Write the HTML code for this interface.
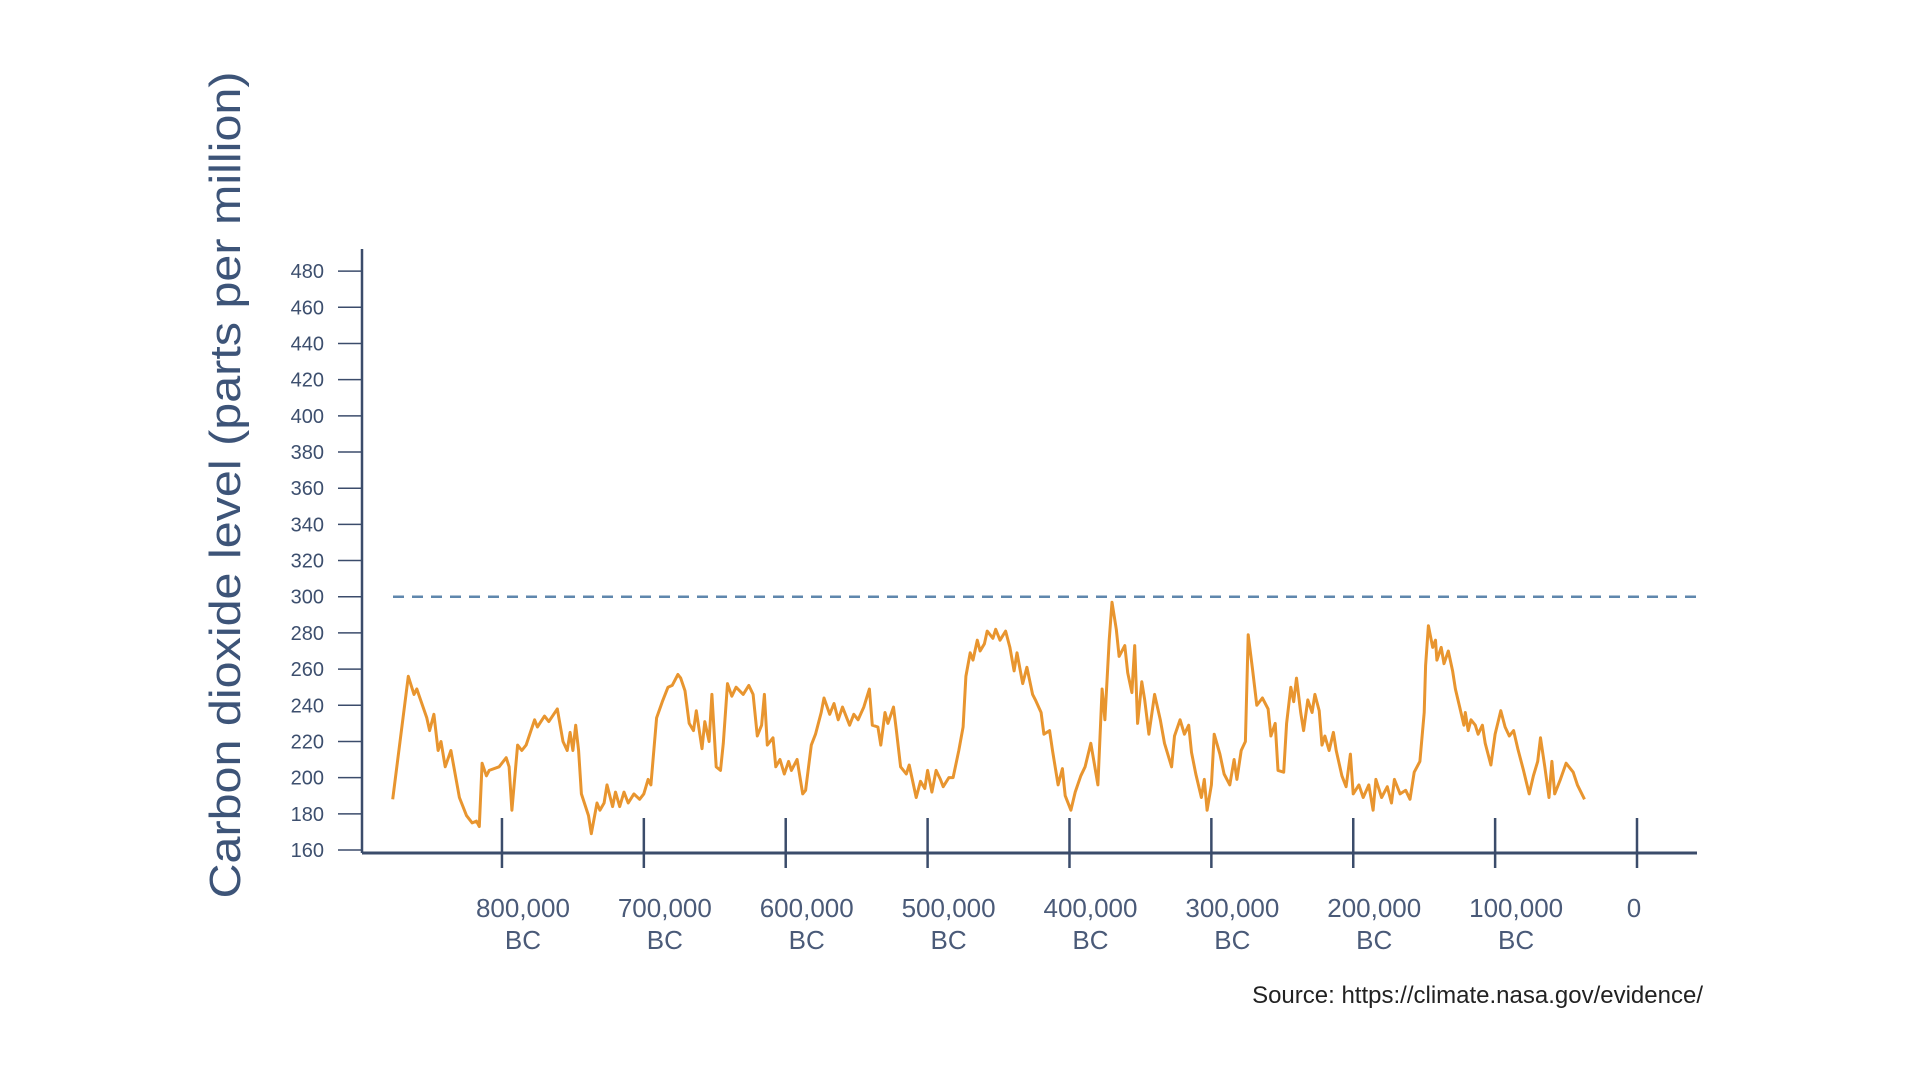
<!DOCTYPE html>
<html><head><meta charset="utf-8">
<style>
html,body{margin:0;padding:0;background:#fff;}
svg{display:block;}
text{font-family:"Liberation Sans",sans-serif;}
</style></head>
<body>
<svg id="chart" width="1920" height="1080" viewBox="0 0 1920 1080" xmlns="http://www.w3.org/2000/svg">
  <rect x="0" y="0" width="1920" height="1080" fill="#fff"/>
  <text transform="translate(240,485) rotate(-90)" text-anchor="middle" font-size="44" fill="#3d5478" textLength="827" lengthAdjust="spacingAndGlyphs">Carbon dioxide level (parts per million)</text>
  <g id="axes"></g>
  <g id="series"></g>
  <text x="1703" y="1003" text-anchor="end" font-size="24" fill="#222">Source: https://climate.nasa.gov/evidence/</text>
</svg>
<script>
const yTicks = [160,180,200,220,240,260,280,300,320,340,360,380,400,420,440,460,480];
const xTicks = [800,700,600,500,400,300,200,100,0];
const xTickLabels = ["800,000","700,000","600,000","500,000","400,000","300,000","200,000","100,000","0"];
const referenceLevel = 300;
const yearsKBC = [877,866,862,860,853,851,848,845,843,840,836,830,825,821,818,816,814,811,809,802,797,795,793,789,786,783,777,775,770,767,761,757,754,752,750,748,746,744,739,737,733,731,728,726,722,720,717,714,711,707,703,700,697,695,691,687,683,680,676,674,671,668,665,663,659,657,654,652,649,646,644,641,638,635,630,626,623,620,617,615,613,609,607,604,601,598,596,592,588,586,582,579,575,573,569,566,563,560,555,552,549,545,541,539,535,533,530,528,524,522,519,515,513,508,505,502,500,497,494,491,489,485,482,478,475,473,470,468,465,463,460,458,454,452,449,445,442,439,437,433,430,426,424,420,418,414,412,408,405,403,399,396,392,389,385,383,380,377,375,372,370,367,365,361,359,356,354,352,349,347,344,340,336,333,328,326,322,319,316,314,311,307,305,303,300,298,294,291,287,284,282,279,276,274,271,268,264,260,258,255,253,249,247,244,242,240,237,235,232,229,227,224,222,220,217,214,212,208,205,202,200,196,193,189,186,184,180,176,173,171,167,163,160,157,153,150,149,147,144,142,141,138,136,133,130,128,125,122,121,119,117,114,112,109,107,103,100,96,93,90,87,84,80,76,73,70,68,65,62,60,58,54,50,45,42,37];
const co2Ppm = [188,256,246,249,233,226,235,215,220,206,215,189,179,175,176,173,208,201,204,206,211,206,182,218,215,218,232,228,234,231,238,220,215,225,215,229,215,191,179,169,186,182,186,196,184,192,184,192,186,191,188,191,199,196,233,242,250,251,257,255,248,230,226,237,216,231,220,246,206,204,219,252,245,250,246,251,246,223,229,246,218,222,206,210,202,209,204,210,191,193,218,224,236,244,235,241,232,239,229,235,232,239,249,229,228,218,236,230,239,226,206,202,207,189,198,194,204,192,204,199,195,200,200,215,228,256,269,265,276,270,274,281,277,282,276,281,272,259,269,252,261,246,243,236,224,226,215,196,205,190,182,192,201,206,219,210,196,249,232,276,297,282,267,273,258,247,273,230,253,243,224,246,232,219,206,223,232,224,229,214,202,189,199,182,196,224,213,202,196,210,199,215,220,279,260,240,244,238,223,230,204,203,230,250,242,255,236,226,243,236,246,237,218,223,215,225,215,201,195,213,191,196,189,196,182,199,189,195,186,199,191,193,188,203,209,236,262,284,272,276,265,272,263,270,259,249,239,229,236,226,232,229,224,229,219,207,224,237,228,223,226,216,204,191,201,209,222,206,189,209,191,199,208,203,196,188];

const NS = "http://www.w3.org/2000/svg";
const X0 = 362, X1 = 1697, YTOP = 249;
function xScale(k){ return 1637 - k * 1.4188; }
function yScale(v){ return 850 - (v - 160) * 1.809; }
const axes = document.getElementById('axes');
const series = document.getElementById('series');
function mk(tag, attrs, parent){
  const e = document.createElementNS(NS, tag);
  for (const k in attrs) e.setAttribute(k, attrs[k]);
  parent.appendChild(e);
  return e;
}
const AX = "#3b4c6b";
let yl = mk('line', {x1:X0, y1:YTOP, x2:X0, y2:yScale(160)+3, stroke:AX, 'stroke-width':2.5}, axes);


let xl = mk('line', {x1:X0, y1:yScale(160)+3, x2:X1, y2:yScale(160)+3, stroke:AX, 'stroke-width':3}, axes);


yTicks.forEach(v => {
  const y = yScale(v);
  const t = mk('line', {x1:338, y1:y, x2:X0, y2:y, stroke:AX, 'stroke-width':1.5}, axes);
  
  
  const l = mk('text', {x:324, y:y+7, 'text-anchor':'end', 'font-size':20, fill:'#3d4f6e'}, axes);
  l.textContent = v;
  
  
});
xTicks.forEach((k, i) => {
  const x = xScale(k);
  const t = mk('line', {x1:x, y1:818, x2:x, y2:868, stroke:AX, 'stroke-width':2.5}, axes);
  
  
  const off = k === 0 ? -3 : 21;
  const l = mk('text', {x:x+off, y:917, 'text-anchor':'middle', 'font-size':26, fill:'#4a5a78'}, axes);
  l.textContent = xTickLabels[i];
  
  
  if (k !== 0) {
    const b = mk('text', {x:x+off, y:949, 'text-anchor':'middle', 'font-size':26, fill:'#4a5a78'}, axes);
    b.textContent = 'BC';
    
    
  }
});
const ry = yScale(referenceLevel);
const rl = mk('line', {x1:393, y1:ry, x2:X1, y2:ry, stroke:'#5f87ad', 'stroke-width':2.5, 'stroke-dasharray':'11 8'}, series);


const pts = yearsKBC.map((k, i) => xScale(k).toFixed(1) + ',' + yScale(co2Ppm[i]).toFixed(1)).join(' ');
const pl = mk('polyline', {points:pts, fill:'none', stroke:'#e8952f', 'stroke-width':3, 'stroke-linejoin':'round'}, series);


</script>
</body></html>
